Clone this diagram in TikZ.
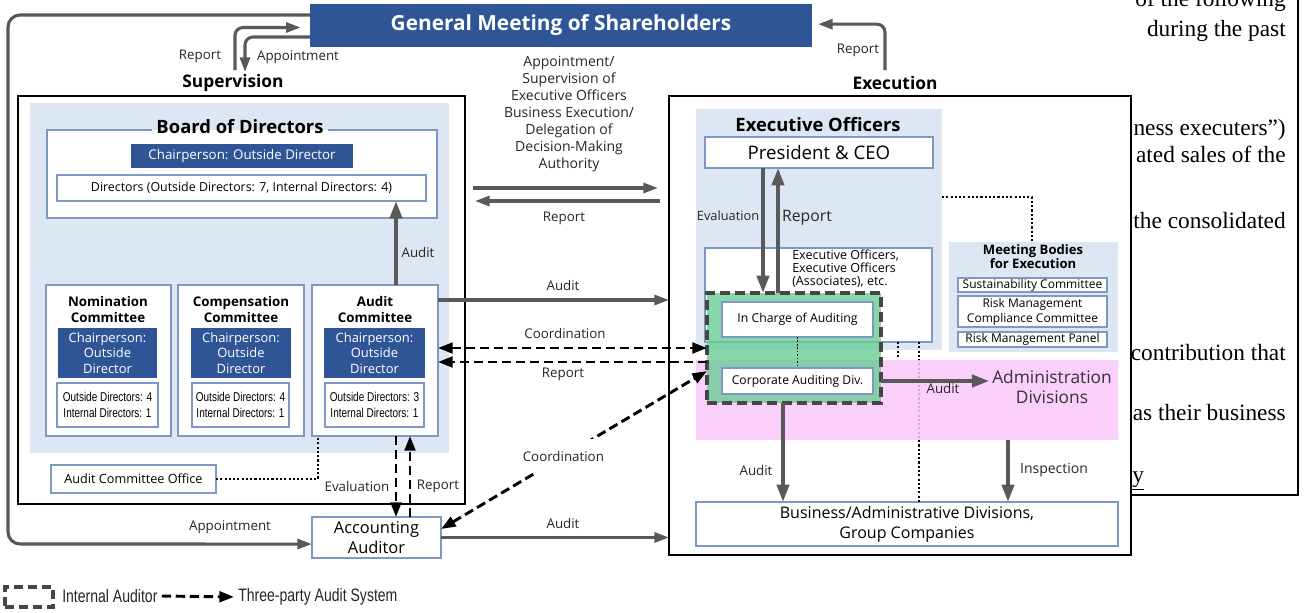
\documentclass[tikz,border=0pt]{standalone}
\usepackage{fontspec}
\setmainfont{Open Sans}
\newfontfamily\narrowf[FakeStretch=0.78]{Liberation Sans}
\newfontfamily\seriff{Liberation Serif}
\usetikzlibrary{arrows.meta}
\definecolor{dblue}{RGB}{47,85,151}
\definecolor{lblue}{RGB}{221,231,243}
\definecolor{bord}{RGB}{125,152,194}
\definecolor{agray}{RGB}{89,89,89}
\definecolor{pinkbg}{RGB}{250,200,250}
\definecolor{mint}{RGB}{105,205,150}
\definecolor{dashgray}{RGB}{70,70,70}
\newcommand\fsz[2]{\fontsize{#1}{#2}\selectfont}
\newcommand\bx[7]{\node[#6,anchor=center,inner sep=0pt,outer sep=0pt,minimum width={(#4-#2)*0.75pt},minimum height={(#5-#3)*0.75pt}] (#1) at ({(#2+#4)/2},{(#3+#5)/2}) {#7};}
\begin{document}
\begin{tikzpicture}[x=0.75pt,y=-0.75pt,
  wbox/.style={draw=bord,fill=white,line width=0.9pt},
  dbox/.style={fill=dblue,text=white},
  lbl/.style={font=\fsz{10}{12},text=black!85,inner sep=1pt},
  garr/.style={draw=agray,line width=3pt,-{Triangle[length=13pt,width=9pt]}},
  garrs/.style={draw=agray,line width=2.3pt,-{Triangle[length=11pt,width=7.5pt]}},
  darr/.style={draw=black,line width=2.2pt,dash pattern=on 7pt off 3.5pt,-{Triangle[length=11pt,width=8pt]}},
  darrb/.style={draw=black,line width=2.2pt,dash pattern=on 7pt off 3.5pt,{Triangle[length=11pt,width=8pt]}-{Triangle[length=11pt,width=8pt]}},
  dots/.style={draw=black,line width=1.6pt,dash pattern=on 1.6pt off 1.6pt},
]
\useasboundingbox (0,0) rectangle (1304,612);
\fill[white] (0,0) rectangle (1304,612);

% ---------- General meeting ----------
\bx{gm}{310}{4}{812}{47}{dbox,font=\bfseries\fsz{15.6}{17}}{General Meeting of Shareholders}
\node[font=\bfseries\fsz{13}{15}] (sup) at (233,83) {Supervision};
\node[font=\bfseries\fsz{13}{15}] (exe) at (895,83) {Execution};

% ---------- Supervision side ----------
\bx{supbox}{18}{96}{465}{504}{draw=black,line width=1.5pt}{}
\bx{supbg}{30}{103}{449}{453}{fill=lblue}{}
\bx{bod}{47}{130}{437}{218}{fill=white}{}
\node[font=\bfseries\fsz{13.8}{15},inner xsep=3pt,inner ysep=0pt] (bodt) at (240,127) {Board of Directors};
\draw[bord,line width=0.9pt] (bodt.west |- bod.north) -- (bod.north west) -- (bod.south west) -- (bod.south east) -- (bod.north east) -- (bodt.east |- bod.north);
\bx{chair}{131}{144}{353}{168}{dbox,font=\fsz{10}{12}}{Chairperson: Outside Director}
\bx{dirs}{57}{175}{426}{201}{wbox,font=\fsz{9.3}{11}}{Directors (Outside Directors: 7, Internal Directors: 4)}

\bx{nom}{46}{285}{171}{436}{wbox}{}
\node[font=\bfseries\fsz{10}{12},align=center] (nomt) at (108,309) {Nomination\\Committee};
\bx{nomc}{58}{328}{157}{378}{dbox,font=\fsz{9.7}{11.6},align=center}{Chairperson:\\Outside\\Director}
\bx{nomi}{57}{383}{158}{427}{wbox,font=\narrowf\fsz{9.6}{12},align=center}{Outside Directors: 4\\Internal Directors: 1}

\bx{com}{178}{285}{304}{436}{wbox}{}
\node[font=\bfseries\fsz{10}{12},align=center] (comt) at (241,309) {Compensation\\Committee};
\bx{comc}{191}{328}{291}{378}{dbox,font=\fsz{9.7}{11.6},align=center}{Chairperson:\\Outside\\Director}
\bx{comi}{192}{383}{289}{427}{wbox,font=\narrowf\fsz{9.6}{12},align=center}{Outside Directors: 4\\Internal Directors: 1}

\bx{audc}{312}{285}{438}{436}{wbox}{}
\node[font=\bfseries\fsz{10}{12},align=center] (audt) at (375,309) {Audit\\Committee};
\bx{audcc}{324}{328}{425}{378}{dbox,font=\fsz{9.7}{11.6},align=center}{Chairperson:\\Outside\\Director}
\bx{audci}{325}{383}{424}{427}{wbox,font=\narrowf\fsz{9.6}{12},align=center}{Outside Directors: 3\\Internal Directors: 1}

\bx{aco}{51}{465}{216}{493}{wbox,font=\fsz{9.5}{11}}{Audit Committee Office}
\bx{acc}{312}{517}{441}{558}{wbox,font=\fsz{12.3}{15.5},align=center}{Accounting\\Auditor}

% ---------- Execution side ----------
\bx{exbox}{669}{96}{1131}{555}{draw=black,line width=1.5pt}{}
\bx{exlb}{696}{109}{942}{350}{fill=lblue}{}
\node[font=\bfseries\fsz{13.8}{15}] (exlt) at (818,125) {Executive Officers};
\bx{pres}{705}{137}{933}{168}{wbox,font=\fsz{14}{16}}{President \& CEO}
\bx{exw}{705}{248}{932}{342}{wbox}{}
\node[font=\fsz{9.4}{9.75},align=left,anchor=west,inner sep=0pt] (exwt) at (792,269) {Executive Officers,\\Executive Officers\\(Associates), etc.};

\bx{mtg}{949}{242}{1118}{352}{fill=lblue}{}
\node[font=\bfseries\fsz{9.8}{9}] (mtgt) at (1033,251) {Meeting Bodies};
\node[font=\bfseries\fsz{9.8}{9}] (mtgt2) at (1033,264) {for Execution};
\bx{sus}{958}{278}{1107}{292}{wbox,font=\fsz{9}{10}}{Sustainability Committee}
\bx{rmc}{958}{296}{1107}{327}{wbox,font=\fsz{9}{11.25},align=center}{Risk Management\\Compliance Committee}
\bx{rmp}{958}{332}{1107}{347}{wbox,font=\fsz{9}{10}}{Risk Management Panel}

% dotted lines under the pink band
\coordinate (c3) at ([xshift=-9.75pt]exw.south east);
\coordinate (c4) at ([xshift=-25.5pt]exw.south east);
\bx{biz}{696}{502}{1118}{546}{wbox,font=\fsz{12}{15},align=center}{Business/Administrative Divisions,\\Group Companies}
\draw[dots] (c3) -- (c3 |- biz.north);
\draw[dots] (c4) -- ++(0,16);

\bx{pink}{696}{360}{1118}{440}{fill=pinkbg,fill opacity=0.85}{}
\bx{iaud}{707}{293}{881}{403}{fill=mint,fill opacity=0.8,draw=dashgray,line width=3pt,dash pattern=on 7.5pt off 3.75pt}{}
\bx{ica}{722}{302}{873}{337}{wbox,font=\fsz{9.2}{11}}{In Charge of Auditing}
\bx{cad}{722}{368}{873}{394}{wbox,font=\fsz{9.1}{11}}{Corporate Auditing Div.}
\draw[dots,line width=1.2pt,dash pattern=on 1.2pt off 1.4pt] (ica.south) -- (cad.north);
\node[font=\fsz{13}{15},align=center,text=black!80,inner sep=2pt] (adm) at (1052,387) {Administration\\Divisions};

% ---------- connectors ----------
\coordinate (lc) at (8,544);
\draw[garrs,rounded corners=9pt] ([yshift=-8.25pt]gm.north west) -| (lc) -- ([yshift=-4.9pt]acc.west);
\node[lbl] (lAppB) at (230,527) {Appointment};

\coordinate (sR) at (235,70);
\coordinate (sA) at (245,72);
\coordinate (eR) at (885,70);
\draw[garrs,rounded corners=6pt,shorten >=7pt] (sR) |- ([yshift=-1.5pt]gm.west);
\draw[garrs,rounded corners=6pt] ([yshift=-8.6pt]gm.west) -| (sA);
\draw[garrs,rounded corners=6pt,shorten >=4.5pt] (eR) |- ([yshift=1pt]gm.east);
\node[lbl] (lRep1) at (200,56) {Report};
\node[lbl] (lApp1) at (298,57) {Appointment};
\node[lbl] (lRep2) at (858,50) {Report};

\node[font=\fsz{10.5}{12.75},align=center,text=black!85] (deleg) at (569,114) {Appointment/\\Supervision of\\Executive Officers\\Business Execution/\\Delegation of\\Decision-Making\\Authority};
\draw[garrs] ([xshift=6pt,yshift=-69pt]supbox.north east) -- ([xshift=-8.25pt,yshift=-69pt]exbox.north west);
\draw[garrs] ([xshift=-6.75pt,yshift=-78.75pt]exbox.north west) -- ([xshift=7.5pt,yshift=-78.75pt]supbox.north east);
\node[lbl] (lRep3) at (564,218) {Report};

\draw[garr] ([xshift=63pt]audc.north west) -- ([xshift=254.25pt]dirs.south west);
\node[lbl] (lAud1) at (418,252) {Audit};

\draw[garrs] ([yshift=-11.25pt]audc.north east) -- ([yshift=-153pt]exbox.north west);
\node[lbl] (lAud2) at (563,285) {Audit};

\draw[darrb] ([yshift=-47.25pt]audc.north east) -- ([yshift=-41.25pt]iaud.north west);
\node[lbl] (lCo1) at (565,333) {Coordination};
\draw[darr] ([yshift=-51.75pt]iaud.north west) -- ([yshift=-57.75pt]audc.north east);
\node[lbl] (lRep4) at (563,374) {Report};

\draw[darrb] ([yshift=-9pt]acc.north east) -- node[pos=0.46,lbl,fill=white,inner xsep=2pt,inner ysep=9pt] (lCo2) {Coordination} ([yshift=-58.5pt]iaud.north west);

\draw[garrs] (acc.east) -- (acc.east -| exbox.west);
\node[lbl] (lAud3) at (563,523) {Audit};

\draw[darr] ([xshift=63pt]audc.south west) -- ([xshift=63pt]acc.north west);
\draw[darr] ([xshift=73.5pt]acc.north west) -- ([xshift=73.5pt]audc.south west);
\node[lbl] (lEv1) at (357,486) {Evaluation};
\node[lbl] (lRep5) at (438,486) {Report};

\draw[dots] (aco.east) -| ([xshift=4.5pt]audc.south west);

\draw[garr] ([xshift=43.5pt]pres.south west) -- ([xshift=42pt]iaud.north west);
\draw[garr] ([xshift=53.25pt]iaud.north west) -- ([xshift=54.75pt]pres.south west);
\node[lbl,font=\fsz{9.6}{11}] (lEv2) at (728,216) {Evaluation};
\node[lbl,font=\fsz{11.8}{13}] (lRep6) at (807,218) {Report};

\coordinate (c5) at ([yshift=-66pt]exlb.north east);
\coordinate (c6) at ([xshift=62.25pt]mtg.north west);
\draw[dots] (c5) -| (c6);

\draw[garr] (cad.east -| iaud.east) -- (cad.east -| adm.west);
\node[lbl] (lAud4) at (943,388) {Audit};

\coordinate (c1) at ([xshift=-8.25pt]iaud.south);
\draw[garr] (c1) -- (c1 |- biz.north);
\node[lbl] (lAud5) at (756,470) {Audit};

\coordinate (c2) at ([xshift=-82.5pt]pink.south east);
\draw[garr] (c2) -- (c2 |- biz.north);
\node[lbl,font=\fsz{10.5}{12}] (lIns) at (1054,470) {Inspection};

% ---------- legend ----------
\bx{lg1}{5}{587}{53}{607}{draw=dashgray,line width=2.6pt,dash pattern=on 7pt off 3.5pt}{}
\node[anchor=west,font=\narrowf\fsz{13.5}{15},inner sep=0pt,text=black!85] (lg1t) at (62,596) {Internal Auditor};
\node[anchor=west,font=\narrowf\fsz{13.5}{15},inner sep=0pt,text=black!85] (lg2t) at (238,597) {Three-party Audit System};
\draw[darr,shorten >=3pt] ([xshift=3pt]lg1t.east) -- (lg2t.west);

% ---------- page text behind the picture ----------
\begin{scope}
\clip (1130,0) rectangle (1304,612);
\node[font=\seriff\fsz{17.5}{20},anchor=base east,inner sep=0pt] (p1) at (1286,6) {of the following};
\node[font=\seriff\fsz{17.5}{20},anchor=base east,inner sep=0pt] (p2) at (1286,36) {during the past};
\node[font=\seriff\fsz{17.5}{20},anchor=base east,inner sep=0pt] (p3) at (1286,135) {ness executers”)};
\node[font=\seriff\fsz{17.5}{20},anchor=base east,inner sep=0pt] (p4) at (1286,162) {ated sales of the};
\node[font=\seriff\fsz{17.5}{20},anchor=base east,inner sep=0pt] (p5) at (1286,228) {the consolidated};
\node[font=\seriff\fsz{17.5}{20},anchor=base east,inner sep=0pt] (p6) at (1286,360) {contribution that};
\node[font=\seriff\fsz{17.5}{20},anchor=base east,inner sep=0pt] (p7) at (1286,420) {as their business};
\node[font=\seriff\fsz{17.5}{20},anchor=base west,inner sep=0pt] (p8) at (1132,482) {\underline{y}};
\end{scope}
\draw[line width=1.5pt] (1298,0) -- (1298,495) -- (1130,495);
\end{tikzpicture}
\end{document}
